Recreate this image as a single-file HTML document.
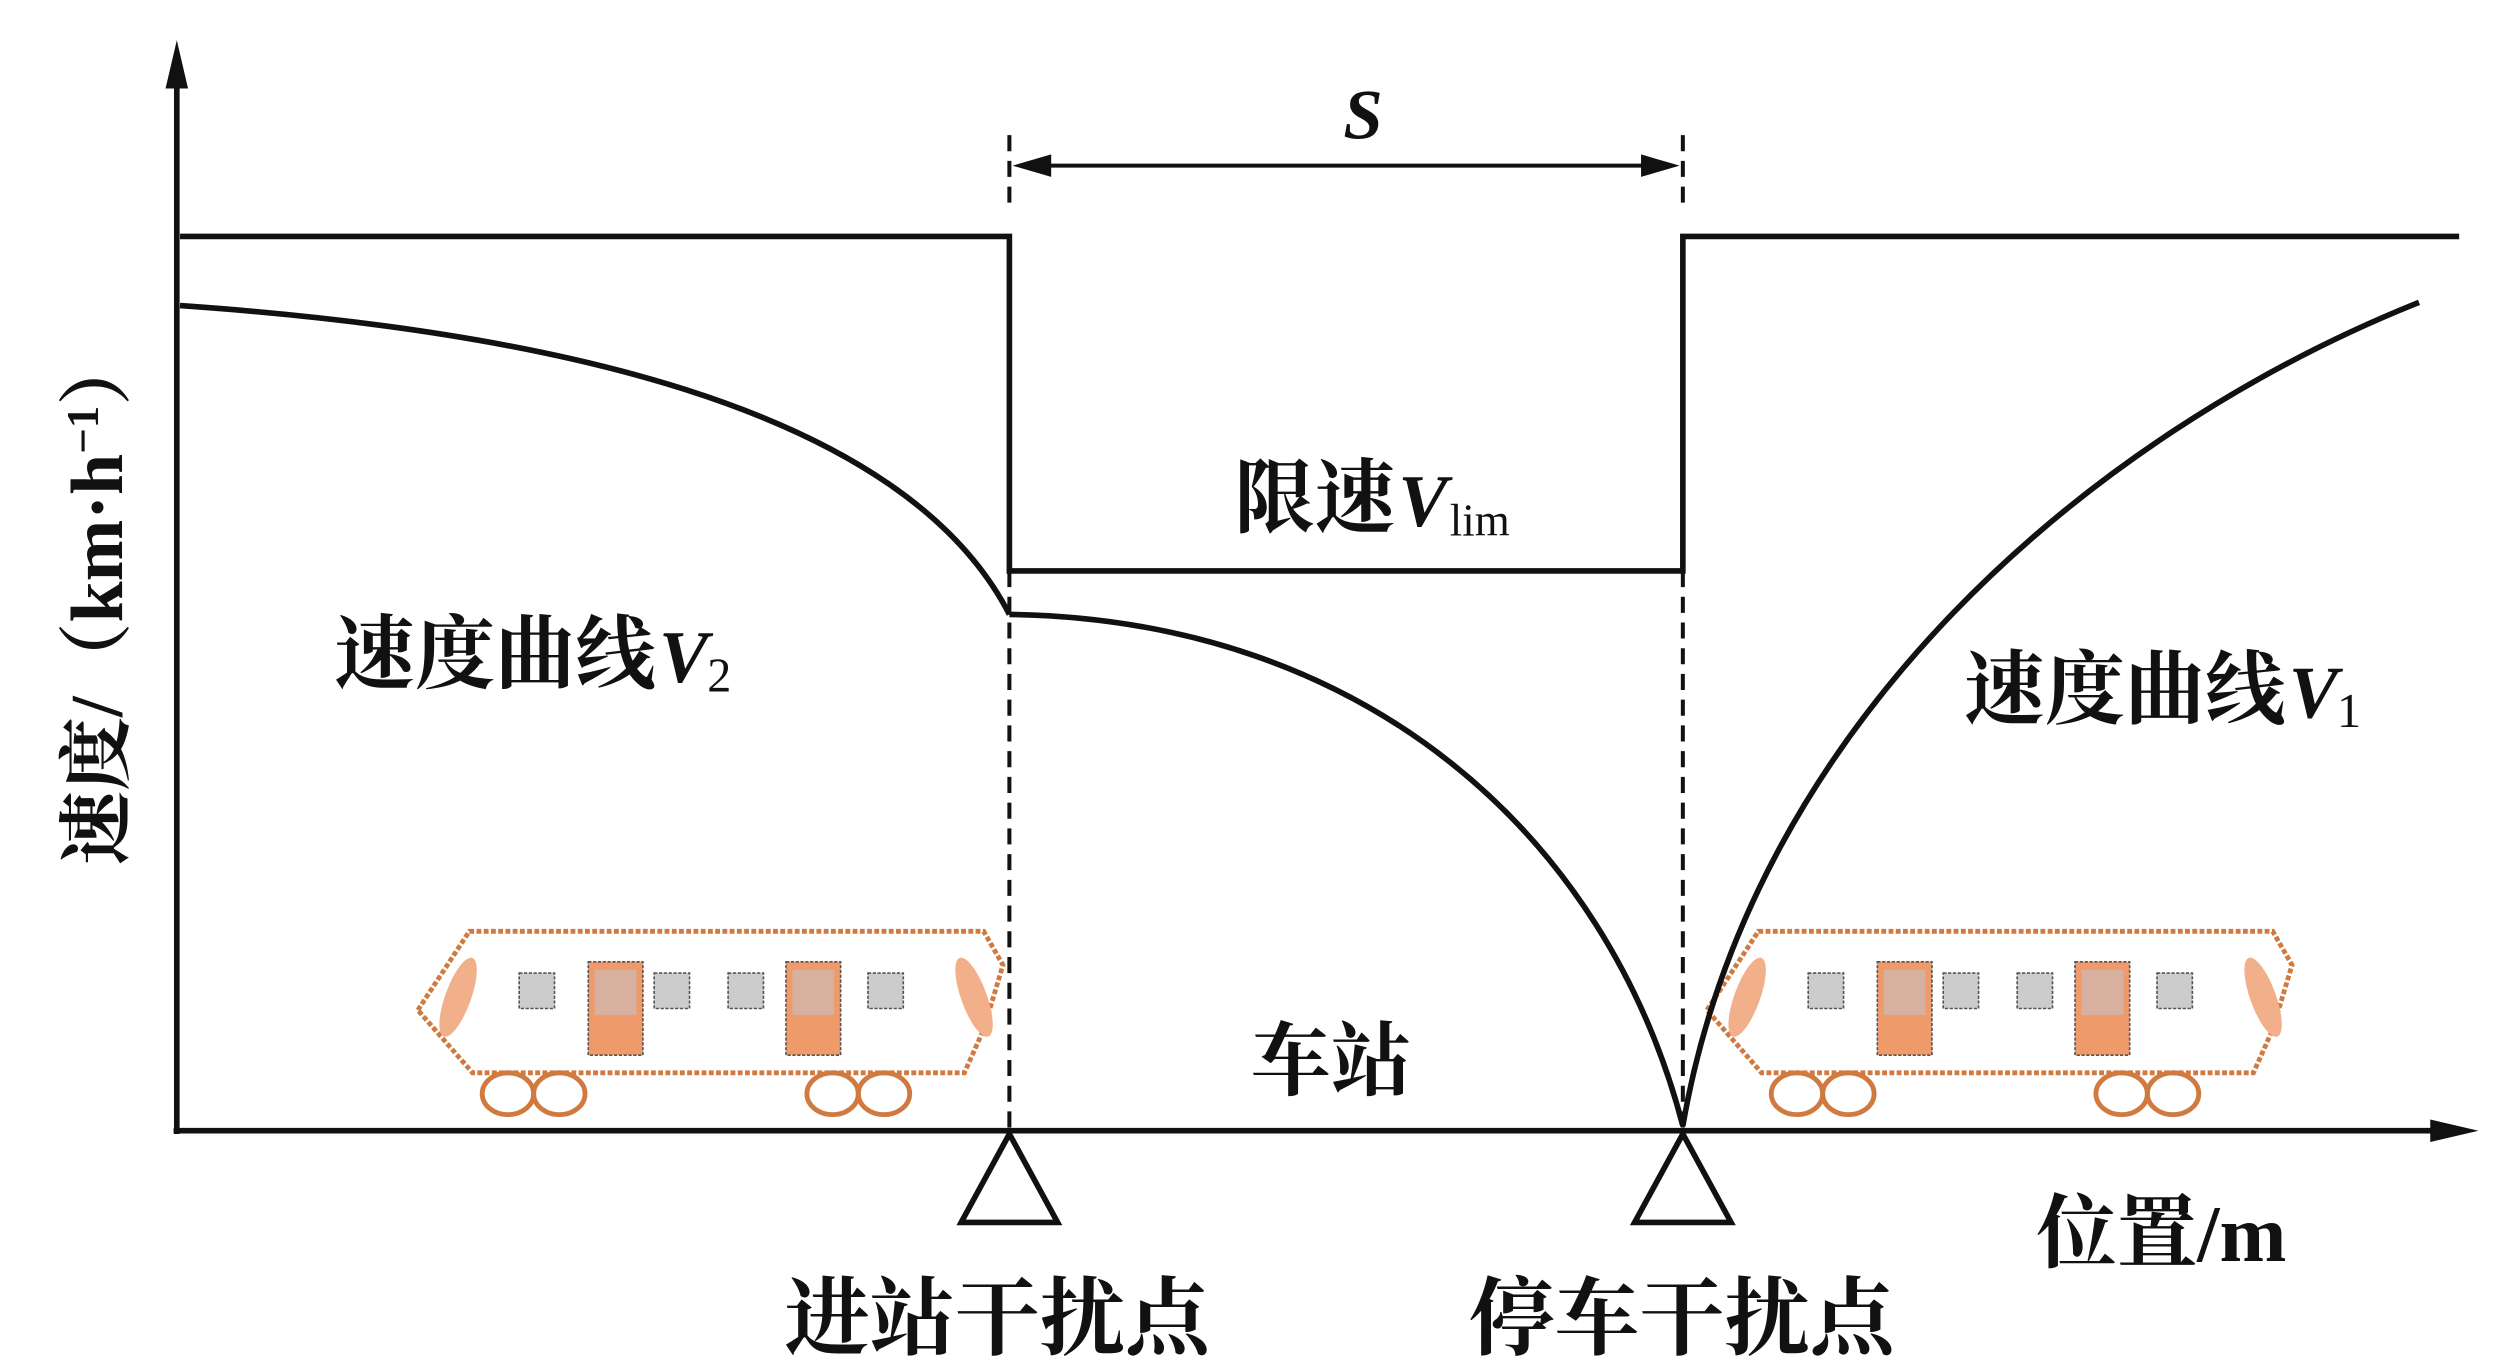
<!DOCTYPE html>
<html><head><meta charset="utf-8"><style>
html,body{margin:0;padding:0;background:#fff}
svg{display:block}
text{font-family:"Liberation Serif","Noto Serif CJK SC",serif;fill:#111}
.c{font-family:"Liberation Serif","Noto Serif CJK SC",serif;font-weight:bold}
</style></head><body>
<svg width="2509" height="1372" viewBox="0 0 1561 853" preserveAspectRatio="none" xmlns="http://www.w3.org/2000/svg">
<defs>
<g id="train">
 <polygon points="260,628 292,579 612,579 624,600 612,640 600,667 294,667" fill="#fff" stroke="#d07a40" stroke-width="3" stroke-dasharray="3,1.5"/>
 <ellipse cx="285" cy="620" rx="8" ry="26" transform="rotate(20 285 620)" fill="#f2b08a"/>
 <ellipse cx="606" cy="620" rx="8" ry="26" transform="rotate(-20 606 620)" fill="#f2b08a"/>
 <rect x="323" y="605" width="22" height="22" fill="#ccc" stroke="#555" stroke-dasharray="2,1"/>
 <rect x="407" y="605" width="22" height="22" fill="#ccc" stroke="#555" stroke-dasharray="2,1"/>
 <rect x="453" y="605" width="22" height="22" fill="#ccc" stroke="#555" stroke-dasharray="2,1"/>
 <rect x="540" y="605" width="22" height="22" fill="#ccc" stroke="#555" stroke-dasharray="2,1"/>
 <rect x="366" y="598" width="34" height="58" fill="#ee9a6a" stroke="#555" stroke-dasharray="2,1"/>
 <rect x="370" y="603" width="26" height="28" fill="#d8b0a0"/>
 <rect x="489" y="598" width="34" height="58" fill="#ee9a6a" stroke="#555" stroke-dasharray="2,1"/>
 <rect x="493" y="603" width="26" height="28" fill="#d8b0a0"/>
 <g fill="none" stroke="#d07a40" stroke-width="3">
  <ellipse cx="316" cy="680" rx="16" ry="13"/><ellipse cx="348" cy="680" rx="16" ry="13"/>
  <ellipse cx="518" cy="680" rx="16" ry="13"/><ellipse cx="550" cy="680" rx="16" ry="13"/>
 </g>
</g>
</defs>
<use href="#train"/>
<use href="#train" transform="translate(802,0)"/>
<g stroke="#111" fill="none" stroke-width="3.5">
 <line x1="110" y1="40" x2="110" y2="705"/>
 <line x1="108" y1="703" x2="1522" y2="703"/>
 <polyline points="112,147 628,147 628,355 1047,355 1047,147 1530,147"/>
 <path d="M112,190 C330,205 560,250 628,382"/>
 <path d="M628,382 C850,385 1000,520 1047,700"/>
 <path d="M1047,700 C1090,450 1300,270 1505,188"/>
</g>
<g stroke="#111" stroke-width="2.5">
 <line x1="628" y1="355" x2="628" y2="703" stroke-dasharray="10,6"/>
 <line x1="1047" y1="355" x2="1047" y2="703" stroke-dasharray="10,6"/>
 <line x1="628" y1="84" x2="628" y2="130" stroke-dasharray="10,6"/>
 <line x1="1047" y1="84" x2="1047" y2="130" stroke-dasharray="10,6"/>
 <line x1="640" y1="103" x2="1035" y2="103"/>
</g>
<polygon points="630,103 654,96 654,110" fill="#111"/>
<polygon points="1045,103 1021,96 1021,110" fill="#111"/>
<polygon points="110,25 103,55 117,55" fill="#111"/>
<polygon points="1542,703 1512,696 1512,710" fill="#111"/>
<polygon points="628,705 598,760 658,760" fill="#fff" stroke="#111" stroke-width="3.5"/>
<polygon points="1047,705 1017,760 1077,760" fill="#fff" stroke="#111" stroke-width="3.5"/>
<text x="848" y="86" font-size="44" font-style="italic" font-weight="bold" text-anchor="middle">S</text>
<text x="768" y="327" font-size="50" class="c">限速</text>
<text x="870" y="327" font-size="46" font-style="italic" font-weight="bold">V</text>
<text x="902" y="333" font-size="28">lim</text>
<text x="208" y="424" font-size="50" class="c">速度曲线</text>
<text x="410" y="424" font-size="46" font-style="italic" font-weight="bold">V</text>
<text x="440" y="430" font-size="30">2</text>
<text x="1222" y="446" font-size="50" class="c">速度曲线</text>
<text x="1424" y="446" font-size="46" font-style="italic" font-weight="bold">V</text>
<text x="1454" y="452" font-size="30">1</text>
<text x="778" y="677" font-size="50" class="c">车站</text>
<text x="1267" y="784" font-size="50" class="c">位置/m</text>
<text x="488" y="838" font-size="53" class="c">进站干扰点</text>
<text x="914" y="838" font-size="53" class="c">停车干扰点</text>
<text transform="translate(76,372) rotate(-90)" font-size="46" text-anchor="middle" class="c">速度/（km·h<tspan font-size="28" dy="-15">−1</tspan><tspan dy="15">）</tspan></text>
</svg>
</body></html>
